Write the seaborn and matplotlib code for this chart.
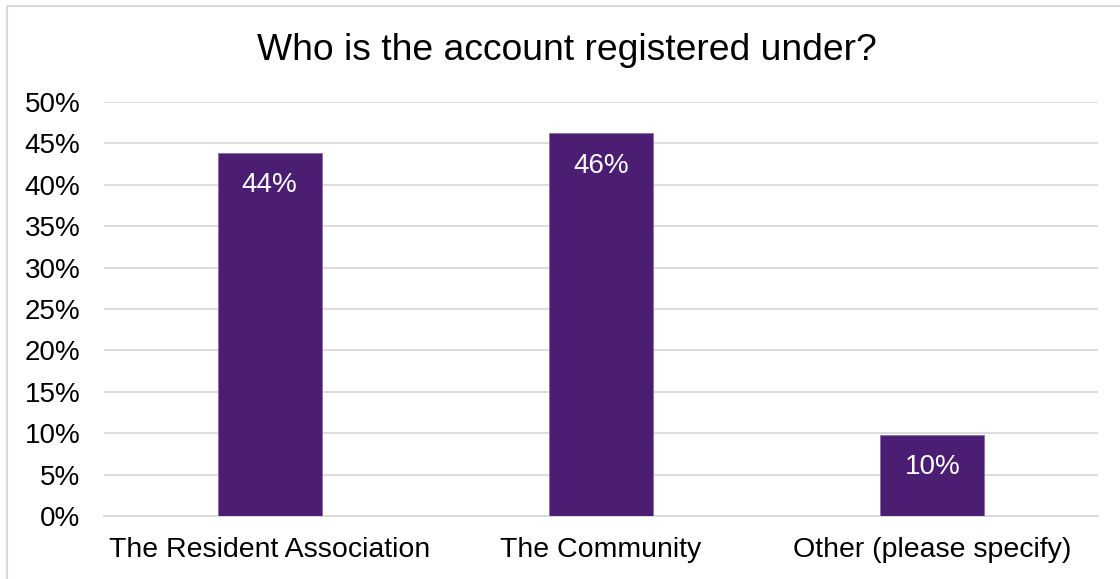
import matplotlib
matplotlib.use("Agg")
import matplotlib.pyplot as plt
import matplotlib.patches as mpatches
from matplotlib.ticker import FuncFormatter
import seaborn as sns
import pandas as pd

categories = ["The Resident Association", "The Community", "Other (please specify)"]
shares = [0.439, 0.462, 0.098]
y_ticks = [0.0, 0.05, 0.10, 0.15, 0.20, 0.25, 0.30, 0.35, 0.40, 0.45, 0.50]

bar_color = "#4B1E73"
grid_color = "#D9D9D9"

sns.set_theme(style="white")
plt.rcParams["font.family"] = ["Liberation Sans", "DejaVu Sans"]

df = pd.DataFrame({"category": categories, "share": shares})

fig = plt.figure(figsize=(11.2, 5.79), dpi=100)
ax = fig.add_axes([104 / 1120, 1 - 516 / 579, (1098 - 104) / 1120, (516 - 102) / 579])

sns.barplot(data=df, x="category", y="share", color=bar_color, width=0.314,
            saturation=1, ax=ax, edgecolor="#8A6FA3", linewidth=0.6, zorder=3)

ax.set_ylim(0, 0.5)
ax.set_xlim(-0.5, 2.5)
ax.set_yticks(y_ticks)
ax.yaxis.set_major_formatter(FuncFormatter(lambda v, _: f"{v * 100:.0f}%"))
ax.grid(axis="y", color=grid_color, linewidth=1.3, zorder=0)
ax.grid(axis="x", visible=False)
for side in ["top", "right", "left"]:
    ax.spines[side].set_visible(False)
ax.spines["bottom"].set_color(grid_color)
ax.spines["bottom"].set_linewidth(1.3)
ax.set_xlabel("")
ax.set_ylabel("")
ax.tick_params(axis="y", labelsize=20, colors="black", length=0, pad=17)
ax.tick_params(axis="x", labelsize=20.5, colors="black", length=0, pad=15)

# value labels just inside the top of each bar
for i, v in enumerate(shares):
    ax.annotate(f"{v * 100:.0f}%", xy=(i, v), xytext=(0, -28.5),
                textcoords="offset points", ha="center", va="baseline",
                color="white", fontsize=20, zorder=4)

fig.text(567 / 1120, 1 - 60 / 579, "Who is the account registered under?", ha="center",
         va="baseline", fontsize=26.8, color="black")

# outer chart border
fig.patches.append(mpatches.Rectangle((7 / 1120, -0.01), 1.2, 1 - 6 / 579 + 0.01,
                                      transform=fig.transFigure, fill=False,
                                      edgecolor="#D9D9D9", linewidth=1.5))

fig.savefig("out.png", dpi=100, facecolor="white")
